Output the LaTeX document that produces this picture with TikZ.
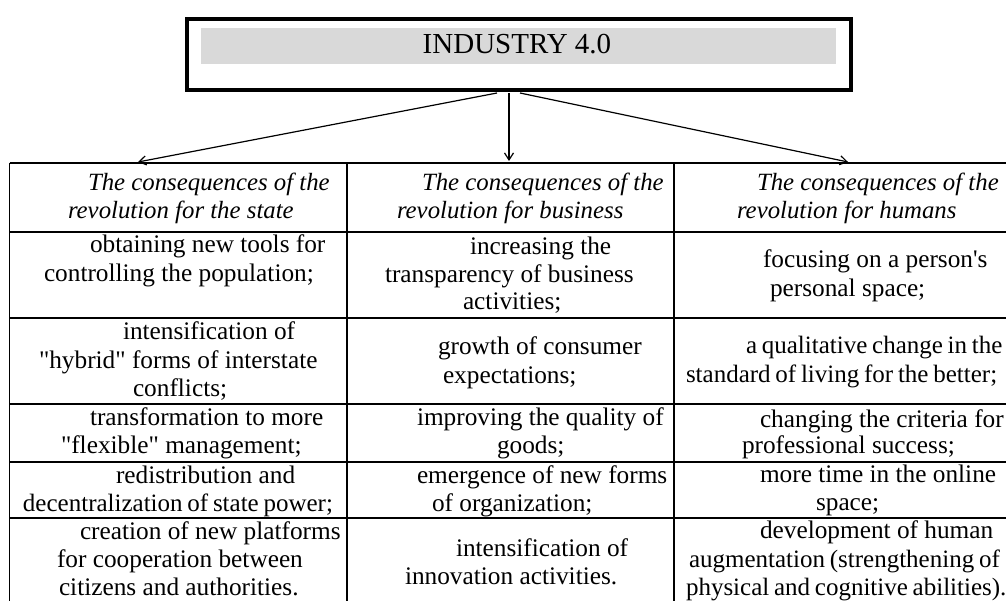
\documentclass[tikz,border=0pt]{standalone}
\usepackage{fontspec}
\setmainfont{Liberation Serif}[Ligatures=TeXOff]
\usetikzlibrary{arrows.meta}
\definecolor{bargray}{HTML}{D9D9D9}
\newcommand\tightsp{\spaceskip=0.19em plus 0.05em\relax}
\tikzset{
  txt/.style={anchor=base west, inner sep=0pt, outer sep=0pt, font=\fontsize{25.3}{28}\selectfont},
  tight/.style={txt, font=\fontsize{25}{28}\selectfont},
  hdr/.style={txt, font=\fontsize{24.8}{28}\selectfont\itshape},
  grid/.style={line width=1.1pt, black},
  conn/.style={line width=1.2pt, -{Straight Barb[length=7pt,width=9pt]}},
}
\newcommand\txtline[5][txt]{\node[#1] (#2) at (#3,#4) {#5};}
\begin{document}
\begin{tikzpicture}[x=1pt,y=-1pt]
\useasboundingbox (0,0) rectangle (1006,601);
\fill[white] (0,0) rectangle (1006,601);
% title box
\node[draw, line width=4pt, minimum width=664pt, minimum height=71pt, inner sep=0pt] (ind) at (519,54.5) {};
\node[fill=bargray, minimum width=635pt, minimum height=36pt, inner sep=0pt] (bar) at (518.5,46) {};
\node[anchor=base, inner sep=0pt, font=\fontsize{29}{32}\selectfont] (title) at (517,54) {INDUSTRY 4.0};
% arrow targets
\coordinate (tA) at (138,162);
\coordinate (tB) at (509,161);
\coordinate (tC) at (848,162);
\draw[conn] ([xshift=-22pt,yshift=-1pt]ind.south) -- (tA);
\draw[conn] ([xshift=-10pt,yshift=-1pt]ind.south) -- (tB);
\draw[conn] ([xshift=1pt,yshift=-1pt]ind.south) -- (tC);
% table grid
\foreach \yy in {163,232,318,404,462,518} \draw[grid] (9.5,\yy) -- (1020,\yy);
\foreach \xx in {9.5,347,674} \draw[grid] (\xx,163) -- (\xx,620);
% header
\txtline[hdr]{hA1}{88}{191}{The consequences of the}
\txtline[hdr]{hA2}{68}{219}{revolution for the state}
\txtline[hdr]{hB1}{422}{191}{The consequences of the}
\txtline[hdr]{hB2}{397}{219}{revolution for business}
\txtline[hdr]{hC1}{757}{191}{The consequences of the}
\txtline[hdr]{hC2}{737}{219}{revolution for humans}
% row 1
\txtline{a1a}{90}{253}{obtaining new tools for}
\txtline{a1b}{44}{282}{controlling the population;}
\txtline{b1a}{470}{255}{increasing the}
\txtline{b1b}{385}{283}{transparency of business}
\txtline{b1c}{463}{310}{activities;}
\txtline{c1a}{763}{268}{focusing on a person's}
\txtline{c1b}{770}{297}{personal space;}
% row 2
\txtline{a2a}{123}{340}{intensification of}
\txtline{a2b}{39}{368}{"hybrid" forms of interstate}
\txtline{a2c}{133}{396}{conflicts;}
\txtline{b2a}{438}{355}{growth of consumer}
\txtline{b2b}{443}{383}{expectations;}
\txtline[tight]{c2a}{746}{353}{\tightsp a qualitative change in the}
\txtline[tight]{c2b}{686}{382}{\tightsp standard of living for the better;}
% row 3
\txtline{a3a}{90}{425}{transformation to more}
\txtline{a3b}{61}{453}{"flexible" management;}
\txtline{b3a}{417}{425}{improving the quality of}
\txtline{b3b}{497}{453}{goods;}
\txtline{c3a}{760}{427}{changing the criteria for}
\txtline{c3b}{742}{453}{professional success;}
% row 4
\txtline{a4a}{116}{483}{redistribution and}
\txtline[tight]{a4b}{23}{511}{\tightsp decentralization of state power;}
\txtline{b4a}{417}{483}{emergence of new forms}
\txtline{b4b}{432}{511}{of organization;}
\txtline{c4a}{760}{482}{more time in the online}
\txtline{c4b}{816}{510}{space;}
% row 5
\txtline{a5a}{80}{539}{creation of new platforms}
\txtline{a5b}{57}{567}{for cooperation between}
\txtline{a5c}{59}{595}{citizens and authorities.}
\txtline{b5a}{456}{556}{intensification of}
\txtline{b5b}{405}{584}{innovation activities.}
\txtline{c5a}{760}{538}{development of human}
\txtline[tight]{c5b}{689}{567}{\tightsp augmentation (strengthening of}
\txtline[tight]{c5c}{686}{595}{\tightsp physical and cognitive abilities).}
\end{tikzpicture}
\end{document}
